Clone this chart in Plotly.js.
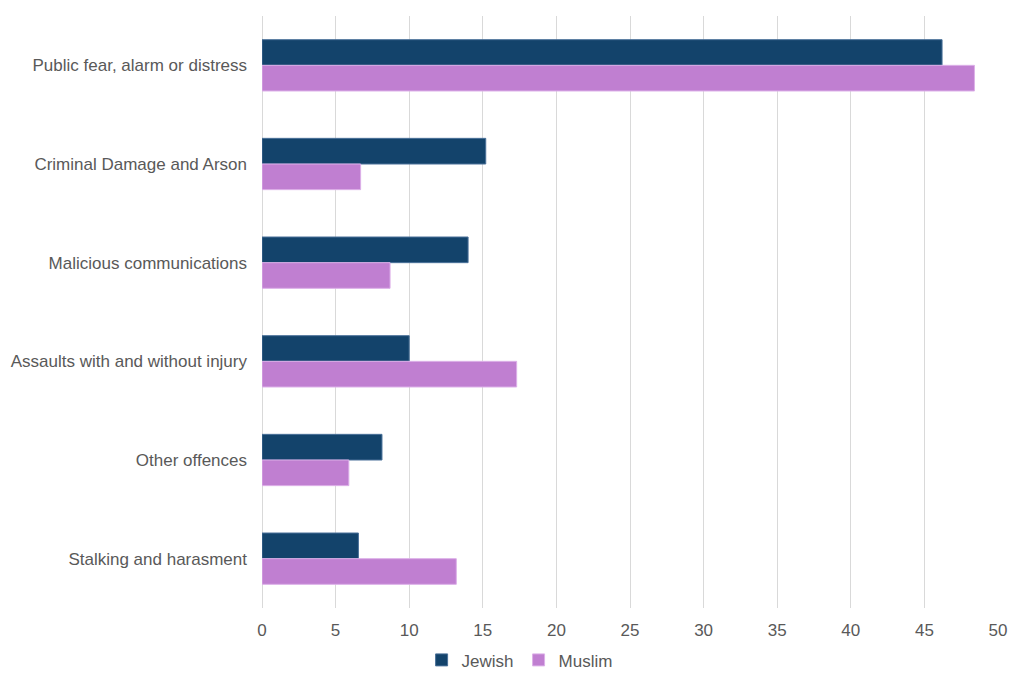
<!DOCTYPE html>
<html>
<head>
<meta charset="utf-8">
<script src="https://cdn.plot.ly/plotly-3.0.1.min.js"></script>
<style>html,body{margin:0;padding:0;background:#fff;}#chart{width:1024px;height:683px;}</style>
</head>
<body>
<div id="chart"></div>
<script>
const categories = [
  "Public fear, alarm or distress",
  "Criminal Damage and Arson",
  "Malicious communications",
  "Assaults with and without injury",
  "Other offences",
  "Stalking and harasment"
];
const jewish = [46.2, 15.2, 14.0, 10.0, 8.15, 6.55];
const muslim = [48.4, 6.7, 8.7, 17.3, 5.9, 13.2];
const xTicks = [0, 5, 10, 15, 20, 25, 30, 35, 40, 45, 50];

const traces = [
  {type: 'bar', orientation: 'h', name: 'Jewish', y: categories, x: jewish,
   marker: {color: '#13436b', line: {color: '#4a7199', width: 1}}},
  {type: 'bar', orientation: 'h', name: 'Muslim', y: categories, x: muslim,
   marker: {color: '#c07fd1', line: {color: '#dcb0e8', width: 1}}}
];
const layout = {
  width: 1024, height: 683,
  margin: {l: 262, r: 26, t: 16, b: 75, autoexpand: false},
  paper_bgcolor: '#fff', plot_bgcolor: '#fff',
  font: {family: 'Liberation Sans, Arial, sans-serif', size: 17, color: '#595959'},
  barmode: 'group', bargap: 0.48, bargroupgap: 0,
  xaxis: {range: [0, 50], tickvals: xTicks, showgrid: true, gridcolor: '#d9d9d9', gridwidth: 1,
          zeroline: true, zerolinecolor: '#d9d9d9', showline: false, ticks: '', fixedrange: true,
          ticklabelstandoff: 10, automargin: false,
          tickfont: {size: 17, color: '#595959'}},
  yaxis: {autorange: 'reversed', showgrid: false, zeroline: false, showline: false, ticks: '',
          automargin: false, ticklabelstandoff: 14, tickfont: {size: 17, color: '#595959'}},
  legend: {orientation: 'h', x: 0.35, xanchor: 'center', y: -0.058, yanchor: 'top',
           font: {size: 17, color: '#595959'}, traceorder: 'normal', itemwidth: 30},
  showlegend: true
};
Plotly.newPlot('chart', traces, layout, {displayModeBar: false, staticPlot: true});
</script>
</body>
</html>
